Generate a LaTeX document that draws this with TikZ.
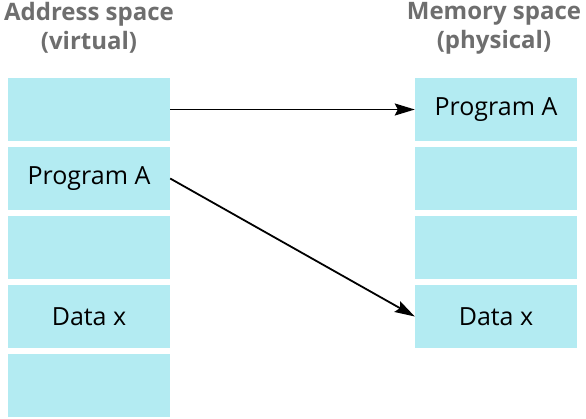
\documentclass[tikz,border=0pt]{standalone}
\usepackage{fontspec}
\setmainfont{Open Sans}
\usetikzlibrary{arrows.meta}
\definecolor{cellfill}{HTML}{B3EBF2}
\definecolor{titlegray}{HTML}{6E6E6E}
\tikzset{
  cell/.style={fill=cellfill, draw=none, minimum width=162pt, minimum height=63pt, inner sep=0pt, font=\fontsize{25}{30}\selectfont},
  title/.style={text=titlegray, font=\bfseries\fontsize{24}{29}\selectfont, align=center, inner sep=0pt},
  link/.style={line width=1.8pt, -{Stealth[length=20pt,width=12pt,inset=3pt]}}
}
\begin{document}
\begin{tikzpicture}[x=1pt,y=-1pt]
\useasboundingbox (0,0) rectangle (586,418);
\node[title] (tl) at (89,28) {Address space\\(virtual)};
\node[title] (tr) at (494,28) {Memory space\\(physical)};
\node[cell] (L1) at (89,109.5) {};
\node[cell] (L2) at (89,178.5) {Program A};
\node[cell] (L3) at (89,247.5) {};
\node[cell] (L4) at (89,316.5) {Data x};
\node[cell] (L5) at (89,385.5) {};
\node[cell] (R1) at (496,109.5) {Program A};
\node[cell] (R2) at (496,178.5) {};
\node[cell] (R3) at (496,247.5) {};
\node[cell] (R4) at (496,316.5) {Data x};
\draw[link] (L1.east) -- (R1.west);
\draw[link] (L2.east) -- (R4.west);
\end{tikzpicture}
\end{document}
